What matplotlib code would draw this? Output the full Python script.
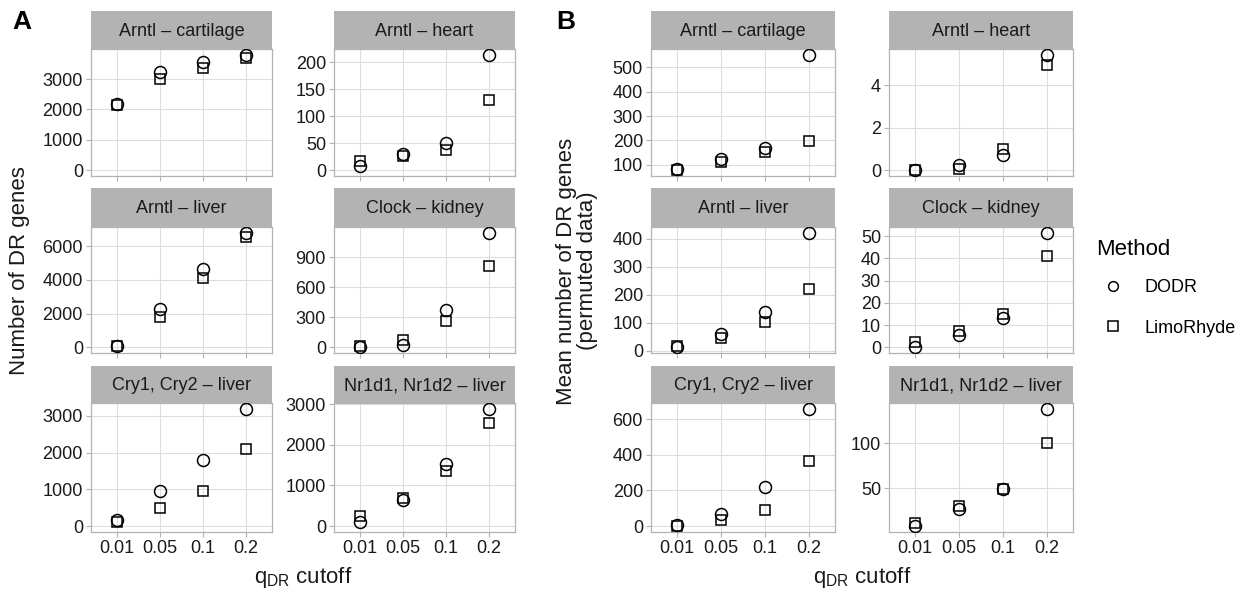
import matplotlib
matplotlib.use("Agg")
import matplotlib.pyplot as plt
from matplotlib.lines import Line2D

plt.rcParams['font.family'] = ['Liberation Sans', 'DejaVu Sans']
plt.rcParams['mathtext.fontset'] = 'custom'
plt.rcParams['mathtext.rm'] = 'Liberation Sans'
plt.rcParams['mathtext.it'] = 'Liberation Sans:italic'

# ---------------- data ----------------
cutoffs = ["0.01", "0.05", "0.1", "0.2"]
panel_names = ["Arntl – cartilage", "Arntl – heart", "Arntl – liver",
               "Clock – kidney", "Cry1, Cry2 – liver", "Nr1d1, Nr1d2 – liver"]
methods = ["DODR", "LimoRhyde"]

# Panel A: number of DR genes
a_dodr = [[2170, 3240, 3560, 3800],
          [8, 30, 50, 214],
          [100, 2260, 4660, 6800],
          [6, 20, 378, 1148],
          [173, 957, 1796, 3190],
          [90, 635, 1540, 2885]]
a_limo = [[2150, 3000, 3380, 3680],
          [18, 27, 38, 131],
          [80, 1780, 4140, 6520],
          [10, 68, 264, 815],
          [110, 492, 957, 2097],
          [250, 685, 1350, 2547]]
a_yticks = [[0, 1000, 2000, 3000],
            [0, 50, 100, 150, 200],
            [0, 2000, 4000, 6000],
            [0, 300, 600, 900],
            [0, 1000, 2000, 3000],
            [0, 1000, 2000, 3000]]

# Panel B: mean number of DR genes (permuted data)
b_dodr = [[80, 123, 168, 552],
          [0.0, 0.26, 0.73, 5.44],
          [12, 61, 138, 422],
          [0.0, 5.4, 13.1, 51.6],
          [7, 66, 220, 658],
          [8.5, 27, 49, 137.8]]
b_limo = [[77, 111, 152, 199],
          [0.0, 0.06, 1.0, 4.97],
          [18, 44, 102, 219],
          [2.4, 7.2, 14.9, 41.0],
          [0, 36, 88, 367],
          [12.2, 30.4, 49, 100]]
b_yticks = [[100, 200, 300, 400, 500],
            [0, 2, 4],
            [0, 100, 200, 300, 400],
            [0, 10, 20, 30, 40, 50],
            [0, 200, 400, 600],
            [50, 100]]

# ---------------- layout ----------------
W, H = 1248, 592
fig = plt.figure(figsize=(W / 100, H / 100), dpi=100)

def rect(x0, x1, y0, y1):
    return [x0 / W, 1 - y1 / H, (x1 - x0) / W, (y1 - y0) / H]

colsA = [(91, 272), (334, 515)]
colsB = [(651, 835), (889, 1073)]
rows = [((11, 49), (49, 176)), ((188, 227), (227, 353)), ((366, 403), (403, 532))]

GRID = '#DEDEDE'
BORDER = '#B3B3B3'
STRIP = '#B3B3B3'
TXT = '#1A1A1A'


def draw_panel(cols, dodr, limo, yticks, force_zero):
    for i, name in enumerate(panel_names):
        r, c = divmod(i, 2)
        (sy0, sy1), (py0, py1) = rows[r]
        x0, x1 = cols[c]
        # strip
        sax = fig.add_axes(rect(x0, x1, sy0, sy1))
        sax.set_facecolor(STRIP)
        sax.set_xticks([]); sax.set_yticks([])
        for s in sax.spines.values():
            s.set_visible(False)
        sax.text(0.5, 0.47, name, ha='center', va='center', fontsize=13,
                 color=TXT, transform=sax.transAxes)
        # plot
        ax = fig.add_axes(rect(x0, x1, py0, py1))
        xs = list(range(1, len(cutoffs) + 1))
        ax.plot(xs, dodr[i], linestyle='none', marker='o', ms=8.6,
                mfc='none', mec='black', mew=1.1, label=methods[0], zorder=3)
        ax.plot(xs, limo[i], linestyle='none', marker='s', ms=7.6,
                mfc='none', mec='black', mew=1.1, label=methods[1], zorder=3)
        vals = dodr[i] + limo[i]
        lo, hi = min(vals), max(vals)
        if force_zero:
            lo = min(lo, 0)
        span = hi - lo
        ax.set_ylim(lo - 0.05 * span, hi + 0.05 * span)
        ax.set_xlim(0.4, len(cutoffs) + 0.6)
        ax.set_yticks(yticks[i])
        ax.set_yticklabels([str(v) for v in yticks[i]])
        ax.set_xticks(xs)
        if r == 2:
            ax.set_xticklabels(cutoffs)
        else:
            ax.set_xticklabels([])
        ax.grid(True, color=GRID, linewidth=0.8, zorder=0)
        ax.set_axisbelow(True)
        for s in ax.spines.values():
            s.set_color(BORDER)
            s.set_linewidth(0.9)
        ax.tick_params(axis='both', colors=BORDER, length=3.8, width=0.8,
                       labelsize=13, labelcolor=TXT, pad=2)

draw_panel(colsA, a_dodr, a_limo, a_yticks, True)
draw_panel(colsB, b_dodr, b_limo, b_yticks, False)

# panel letters
fig.text(12 / W, 1 - 22 / H, "A", fontsize=19, fontweight='bold', va='center', ha='left')
fig.text(556 / W, 1 - 22 / H, "B", fontsize=19, fontweight='bold', va='center', ha='left')

# axis titles
fig.text(20 / W, 1 - 271 / H, "Number of DR genes", rotation=90, fontsize=16,
         ha='center', va='center', color=TXT)
fig.text(577 / W, 1 - 271 / H, "Mean number of DR genes\n(permuted data)", rotation=90,
         fontsize=16, ha='center', va='center', color=TXT, linespacing=0.95)
fig.text(303 / W, 1 - 578 / H, r"q$_{\mathrm{DR}}$ cutoff", fontsize=16,
         ha='center', va='center', color=TXT)
fig.text(862 / W, 1 - 578 / H, r"q$_{\mathrm{DR}}$ cutoff", fontsize=16,
         ha='center', va='center', color=TXT)

# legend
leg_handles = [Line2D([], [], linestyle='none', marker='o', ms=7, mfc='none', mec='black', mew=1.1),
               Line2D([], [], linestyle='none', marker='s', ms=6.5, mfc='none', mec='black', mew=1.1)]
leg = fig.legend(leg_handles, methods, title="Method", loc='upper left',
                 bbox_to_anchor=(1096 / W, 1 - 239 / H), frameon=False,
                 fontsize=13, title_fontsize=16, borderpad=0, borderaxespad=0,
                 handlelength=1.88, handletextpad=0.78, labelspacing=1.28,
                 alignment='left')
leg._legend_box.sep = 14

fig.savefig("out.png", dpi=100)
